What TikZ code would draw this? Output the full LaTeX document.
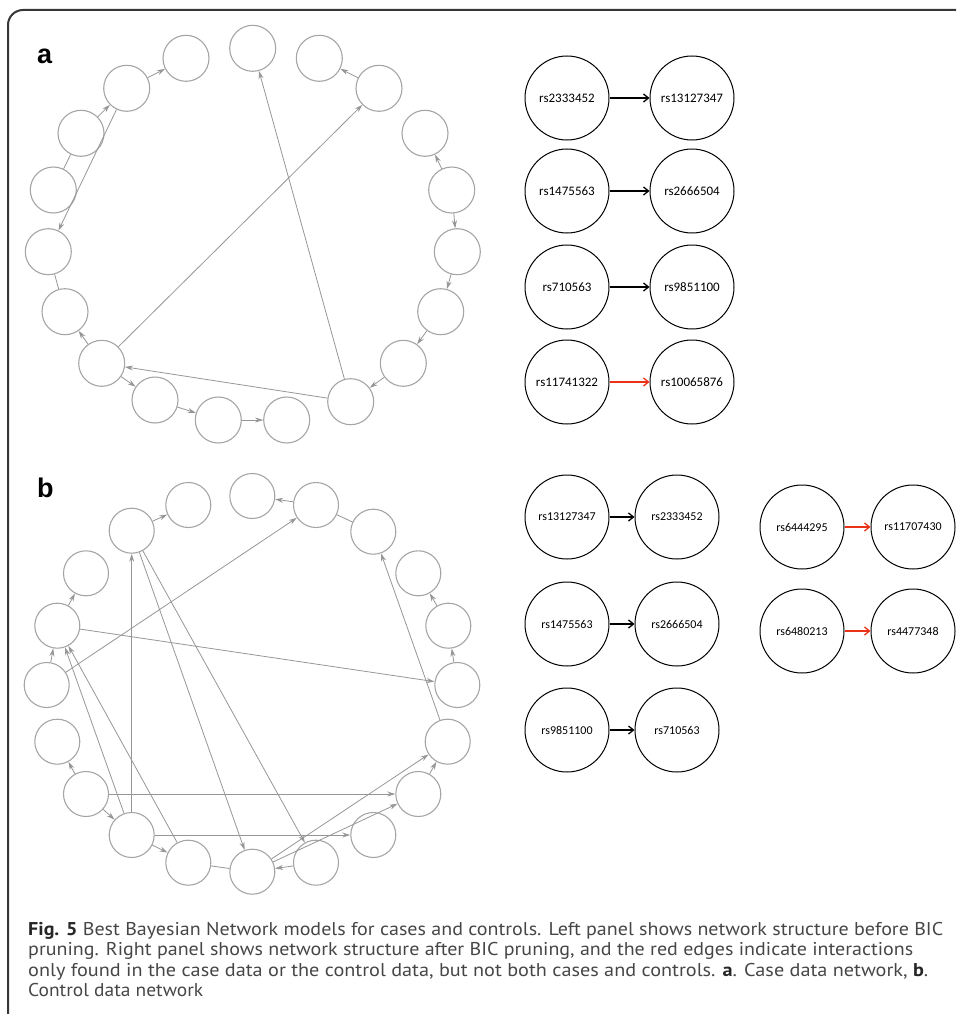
\documentclass[tikz,border=0pt]{standalone}
\usepackage{fontspec}
\usepackage{graphicx}
\setmainfont{PT Sans}
\newfontfamily\labfont{Liberation Sans}
\newfontfamily\rsfont{Carlito}
\usetikzlibrary{arrows.meta}
\definecolor{gcirc}{RGB}{165,165,165}
\definecolor{gedgec}{RGB}{150,150,150}
\definecolor{framec}{RGB}{55,55,55}
\definecolor{capc}{RGB}{70,70,70}
\definecolor{redarr}{RGB}{235,50,25}
\tikzset{
  gnode/.style={circle, draw=gcirc, line width=1.1pt, minimum size=46pt, inner sep=0pt},
  gnodeb/.style={gnode, minimum size=45pt},
  gedge/.style={draw=gedgec, line width=0.8pt, -{Stealth[length=8pt,width=5pt]}},
  gline/.style={draw=gedgec, line width=0.8pt},
  rnode/.style={circle, draw=black, line width=1pt, minimum size=84pt, inner sep=0pt, font=\rsfont\fontsize{13}{15}\selectfont},
  rnodeb/.style={rnode, font=\rsfont\fontsize{12}{14}\selectfont},
  rarrow/.style={draw=black, line width=1.3pt, -{Straight Barb[length=5pt,width=8pt]}},
  redarrow/.style={rarrow, draw=redarr},
  panlab/.style={anchor=base west, inner sep=0pt, font=\labfont\bfseries\fontsize{27}{30}\selectfont},
  capline/.style={anchor=base west, inner sep=0pt, text=capc, font=\fontsize{18.5}{20}\selectfont}
}
\begin{document}
\begin{tikzpicture}[x=1pt,y=-1pt]
\useasboundingbox (0,0) rectangle (956,1014);
% frame
\draw[framec, line width=2pt, rounded corners=15pt] (8,1014) -- (8,10) -- (956,10);
% labels
\node[panlab] (la) at (37,64) {a};
\node[panlab] (lb) at (37,497) {b};
% ---------------- panel a, left network
\node[gnode] (a1) at (252.7,48.3) {};
\node[gnode] (a2) at (319.3,58.3) {};
\node[gnode] (a3) at (379,88.3) {};
\node[gnode] (a4) at (425,133.3) {};
\node[gnode] (a5) at (451.7,190) {};
\node[gnode] (a6) at (457.3,251.7) {};
\node[gnode] (a7) at (440.7,311.7) {};
\node[gnode] (a8) at (403.3,363.3) {};
\node[gnode] (a9) at (350.7,401.7) {};
\node[gnode] (a10) at (286.7,420) {};
\node[gnode] (a11) at (218.3,420) {};
\node[gnode] (a12) at (155,400) {};
\node[gnode] (a13) at (101.7,363.3) {};
\node[gnode] (a14) at (65,311.7) {};
\node[gnode] (a15) at (48.3,251.7) {};
\node[gnode] (a16) at (53.3,190) {};
\node[gnode] (a17) at (81,133.3) {};
\node[gnode] (a18) at (126.7,88.3) {};
\node[gnode] (a19) at (186,58.3) {};
\foreach \s/\t in {a18/a19,a17/a18,a18/a15,a13/a14,a13/a12,a12/a11,a11/a10,a9/a13,a9/a1,a13/a3,a3/a2,a5/a4,a5/a6,a6/a7,a7/a8,a8/a9}
  \draw[gedge] (\s) -- (\t);
\foreach \s/\t in {a16/a17,a15/a14}
  \draw[gline] (\s) -- (\t);
% ---------------- panel b, left network
\node[gnodeb] (b1) at (252.3,496) {};
\node[gnodeb] (b2) at (316,505) {};
\node[gnodeb] (b3) at (373.3,531.7) {};
\node[gnodeb] (b4) at (418.3,573.3) {};
\node[gnodeb] (b5) at (448.3,625.7) {};
\node[gnodeb] (b6) at (457.3,685) {};
\node[gnodeb] (b7) at (447.7,741.7) {};
\node[gnodeb] (b8) at (418.3,794) {};
\node[gnodeb] (b9) at (373.3,835) {};
\node[gnodeb] (b10) at (316,862.7) {};
\node[gnodeb] (b11) at (252.3,871.7) {};
\node[gnodeb] (b12) at (188.3,862.7) {};
\node[gnodeb] (b13) at (131.7,835) {};
\node[gnodeb] (b14) at (86,794) {};
\node[gnodeb] (b15) at (57.3,741.7) {};
\node[gnodeb] (b16) at (46.7,685) {};
\node[gnodeb] (b17) at (57.3,625.7) {};
\node[gnodeb] (b18) at (86,573.3) {};
\node[gnodeb] (b19) at (131.7,530.7) {};
\node[gnodeb] (b20) at (188.3,505) {};
\foreach \s/\t in {b19/b20,b2/b1,b16/b2,b17/b18,b16/b17,b17/b6,b7/b3,b5/b4,b6/b5,b8/b7,b14/b15,b14/b8,b14/b13,b13/b19,b13/b17,b12/b17,b19/b11,b19/b10,b13/b9,b13/b12,b11/b7,b11/b8,b10/b11}
  \draw[gedge] (\s) -- (\t);
\foreach \s/\t in {b2/b3,b12/b11}
  \draw[gline] (\s) -- (\t);
% ---------------- panel a, right pairs
\node[rnode] (ra1) at (567,98) {rs2333452};
\node[rnode] (ra2) at (692,98) {rs13127347};
\node[rnode] (ra3) at (567,191) {rs1475563};
\node[rnode] (ra4) at (692,191) {rs2666504};
\node[rnode] (ra5) at (567,287) {rs710563};
\node[rnode] (ra6) at (692,287) {rs9851100};
\node[rnode] (ra7) at (567,382) {rs11741322};
\node[rnode] (ra8) at (692,382) {rs10065876};
\draw[rarrow] (ra1) -- (ra2);
\draw[rarrow] (ra3) -- (ra4);
\draw[rarrow] (ra5) -- (ra6);
\draw[redarrow] (ra7) -- (ra8);
% ---------------- panel b, right pairs
\node[rnodeb] (rb1) at (567,517) {rs13127347};
\node[rnodeb] (rb2) at (677,517) {rs2333452};
\node[rnodeb] (rb3) at (567,624) {rs1475563};
\node[rnodeb] (rb4) at (677,624) {rs2666504};
\node[rnodeb] (rb5) at (567,730) {rs9851100};
\node[rnodeb] (rb6) at (677,730) {rs710563};
\node[rnodeb] (rb7) at (802,527) {rs6444295};
\node[rnodeb] (rb8) at (913,527) {rs11707430};
\node[rnodeb] (rb9) at (802,631) {rs6480213};
\node[rnodeb] (rb10) at (913,631) {rs4477348};
\draw[rarrow] (rb1) -- (rb2);
\draw[rarrow] (rb3) -- (rb4);
\draw[rarrow] (rb5) -- (rb6);
\draw[redarrow] (rb7) -- (rb8);
\draw[redarrow] (rb9) -- (rb10);
% ---------------- caption
\node[capline] (c1) at (28,935) {\resizebox{915pt}{\height}{\textbf{\color{black!85}Fig. 5} Best Bayesian Network models for cases and controls. Left panel shows network structure before BIC}};
\node[capline] (c2) at (28,955.5) {\resizebox{885pt}{\height}{pruning. Right panel shows network structure after BIC pruning, and the red edges indicate interactions}};
\node[capline] (c3) at (28,976) {\resizebox{900pt}{\height}{only found in the case data or the control data, but not both cases and controls. \textbf{\color{black!85}a}. Case data network, \textbf{\color{black!85}b}.}};
\node[capline] (c4) at (28,996.5) {\resizebox{175pt}{\height}{Control data network}};
\end{tikzpicture}
\end{document}
